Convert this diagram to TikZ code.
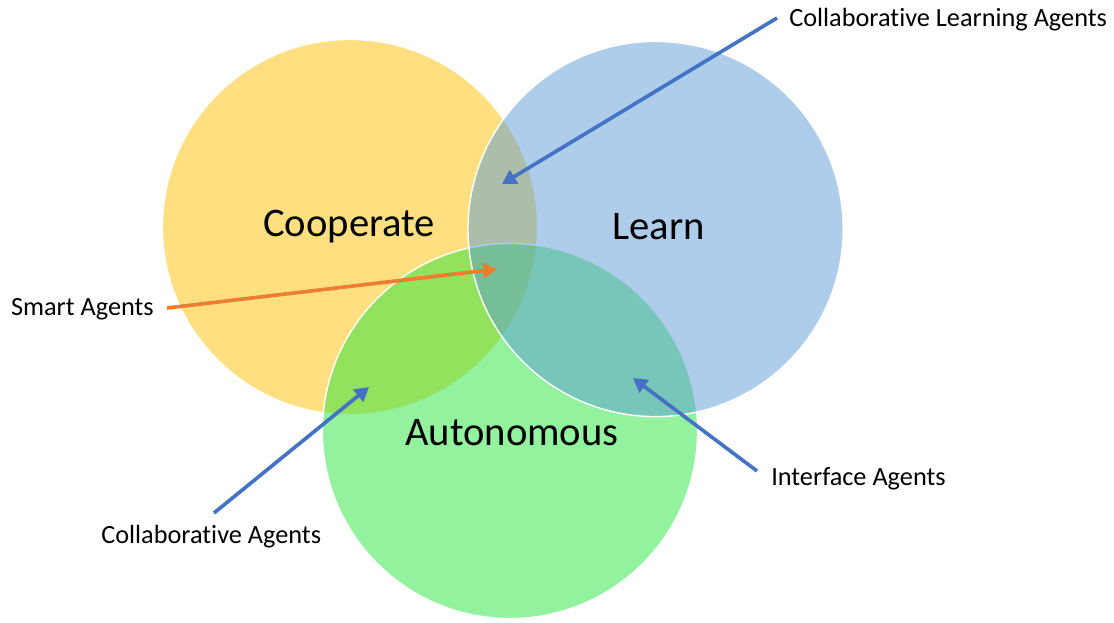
\documentclass[tikz,border=0pt]{standalone}
\usepackage{fontspec}
\setmainfont[RawFeature={-liga;-clig;-dlig;-calt}]{Carlito}
\usetikzlibrary{arrows.meta}

\definecolor{coopyellow}{HTML}{FFC000}
\definecolor{learnblue}{HTML}{5B9BD5}
\definecolor{autogreen}{RGB}{40,229,60}
\definecolor{arrowblue}{HTML}{4472C4}
\definecolor{arroworange}{HTML}{ED7D31}

\begin{document}
\begin{tikzpicture}

      \tikzset{set/.style={draw=white, line width=1pt, fill opacity=.5},
               big/.style={inner sep=0pt, font=\fontsize{28.9}{34}\selectfont},
               small/.style={inner sep=0pt, font=\fontsize{18.7}{22}\selectfont},
               pointer/.style={line width=2.6pt, -{Triangle[length=10pt, width=11pt]}}}
      \useasboundingbox (0,0) rectangle (27.85,15.55);
%% Circles
      	\path[set, fill=coopyellow] (8.75,9.875) circle (4.69);
      	\path[set, fill=autogreen] (12.75,4.775) circle (4.69);
      	\path[set, fill=learnblue] (16.39,9.825) circle (4.69);
%% Set names
      	\node[big, anchor=base west] (coop) at (6.575,9.625) {Cooperate};
      	\node[big, anchor=base west] (learn) at (15.3,9.55) {Learn};
      	\node[big, anchor=base west] (auto) at (10.125,4.425) {Autonomous};
%% Agent labels
      	\node[small, anchor=base west] (cla) at (19.725,14.875) {Collaborative Learning Agents};
      	\node[small, anchor=base east] (sa) at (3.85,7.65) {Smart Agents};
      	\node[small, anchor=base west] (ca) at (2.525,1.975) {Collaborative Agents};
      	\node[small, anchor=base west] (ia) at (19.275,3.425) {Interface Agents};
%% Arrow ends
      	\coordinate (claTail) at (19.425,15.1);
      	\coordinate (claTip) at (12.55,10.95);
      	\coordinate (saTail) at (4.175,7.85);
      	\coordinate (saTip) at (12.425,8.825);
      	\coordinate (caTail) at (5.35,2.725);
      	\coordinate (caTip) at (9.225,5.875);
      	\coordinate (iaTail) at (18.925,3.775);
      	\coordinate (iaTip) at (15.825,6.1);
%Arrows
		\draw[pointer, arrowblue] (claTail) -- (claTip);
		\draw[pointer, arroworange] (saTail) -- (saTip);
		\draw[pointer, arrowblue] (caTail) -- (caTip);
		\draw[pointer, arrowblue] (iaTail) -- (iaTip);

	\end{tikzpicture}
\end{document}
